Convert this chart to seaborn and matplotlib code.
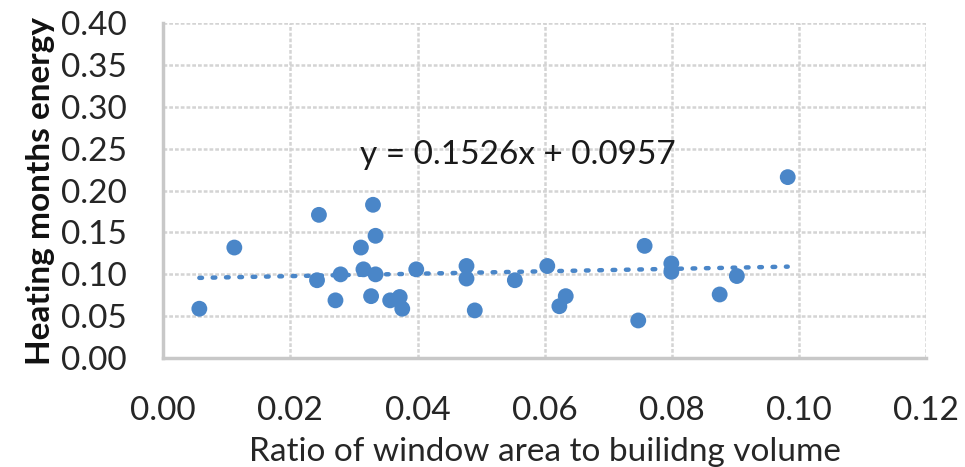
import numpy as np
import pandas as pd
import matplotlib
matplotlib.use("Agg")
import matplotlib.pyplot as plt
import seaborn as sns

# values
ratio = [0.0057, 0.0112, 0.0245, 0.0242, 0.0271, 0.0279, 0.0311, 0.0315,
         0.0330, 0.0334, 0.0327, 0.0334, 0.0357, 0.0372, 0.0376, 0.0398,
         0.0477, 0.0477, 0.0490, 0.0553, 0.0604, 0.0623, 0.0633, 0.0747,
         0.0757, 0.0799, 0.0799, 0.0875, 0.0902, 0.0982]
energy = [0.059, 0.132, 0.171, 0.093, 0.069, 0.100, 0.132, 0.106,
          0.183, 0.146, 0.074, 0.100, 0.069, 0.073, 0.059, 0.106,
          0.110, 0.095, 0.057, 0.093, 0.110, 0.062, 0.074, 0.045,
          0.134, 0.113, 0.103, 0.076, 0.098, 0.216]
x_ticks = [0.00, 0.02, 0.04, 0.06, 0.08, 0.10, 0.12]
y_ticks = [0.00, 0.05, 0.10, 0.15, 0.20, 0.25, 0.30, 0.35, 0.40]
equation = "y = 0.1526x + 0.0957"

df = pd.DataFrame({"ratio": ratio, "energy": energy})

sns.set_style("white")
plt.rcParams["font.family"] = ["Lato", "DejaVu Sans"]

blue = "#4a86c8"
fig, ax = plt.subplots(figsize=(9.65, 4.67), dpi=100)
fig.subplots_adjust(left=0.169, right=0.96, top=0.951, bottom=0.233)

sns.regplot(x="ratio", y="energy", data=df, ax=ax, ci=None, truncate=True,
            scatter_kws={"s": 130, "color": blue, "edgecolor": "none", "alpha": 1, "zorder": 3},
            line_kws={"color": blue, "linestyle": (0, (0.6, 2.4)), "linewidth": 3.2,
                      "dash_capstyle": "round", "zorder": 2})

ax.set_xlim(0, 0.12)
ax.set_ylim(0, 0.40)
ax.set_xticks(x_ticks)
ax.set_yticks(y_ticks)
ax.set_xticklabels([f"{v:.2f}" for v in x_ticks])
ax.set_yticklabels([f"{v:.2f}" for v in y_ticks])
ax.tick_params(labelsize=24, colors="#262626", length=0)
ax.tick_params(axis="y", pad=26)
ax.tick_params(axis="x", pad=27)

ax.grid(True, color="#d4d4d4", linestyle=(0, (1.5, 0.8)), linewidth=1.8, zorder=0)
ax.set_axisbelow(True)
for side in ["top", "right"]:
    ax.spines[side].set_visible(False)
for side in ["left", "bottom"]:
    ax.spines[side].set_color("#c8c8c8")
    ax.spines[side].set_linewidth(2.5)

ax.set_xlabel("Ratio of window area to builidng volume", fontsize=24, color="#262626", labelpad=8)
ax.set_ylabel("Heating months energy", fontsize=24, fontweight="bold", color="#111111", labelpad=4)

ax.text(0.031, 0.242, equation, fontsize=24, color="#1a1a1a", va="center", ha="left")

fig.savefig("out.png", dpi=100)
